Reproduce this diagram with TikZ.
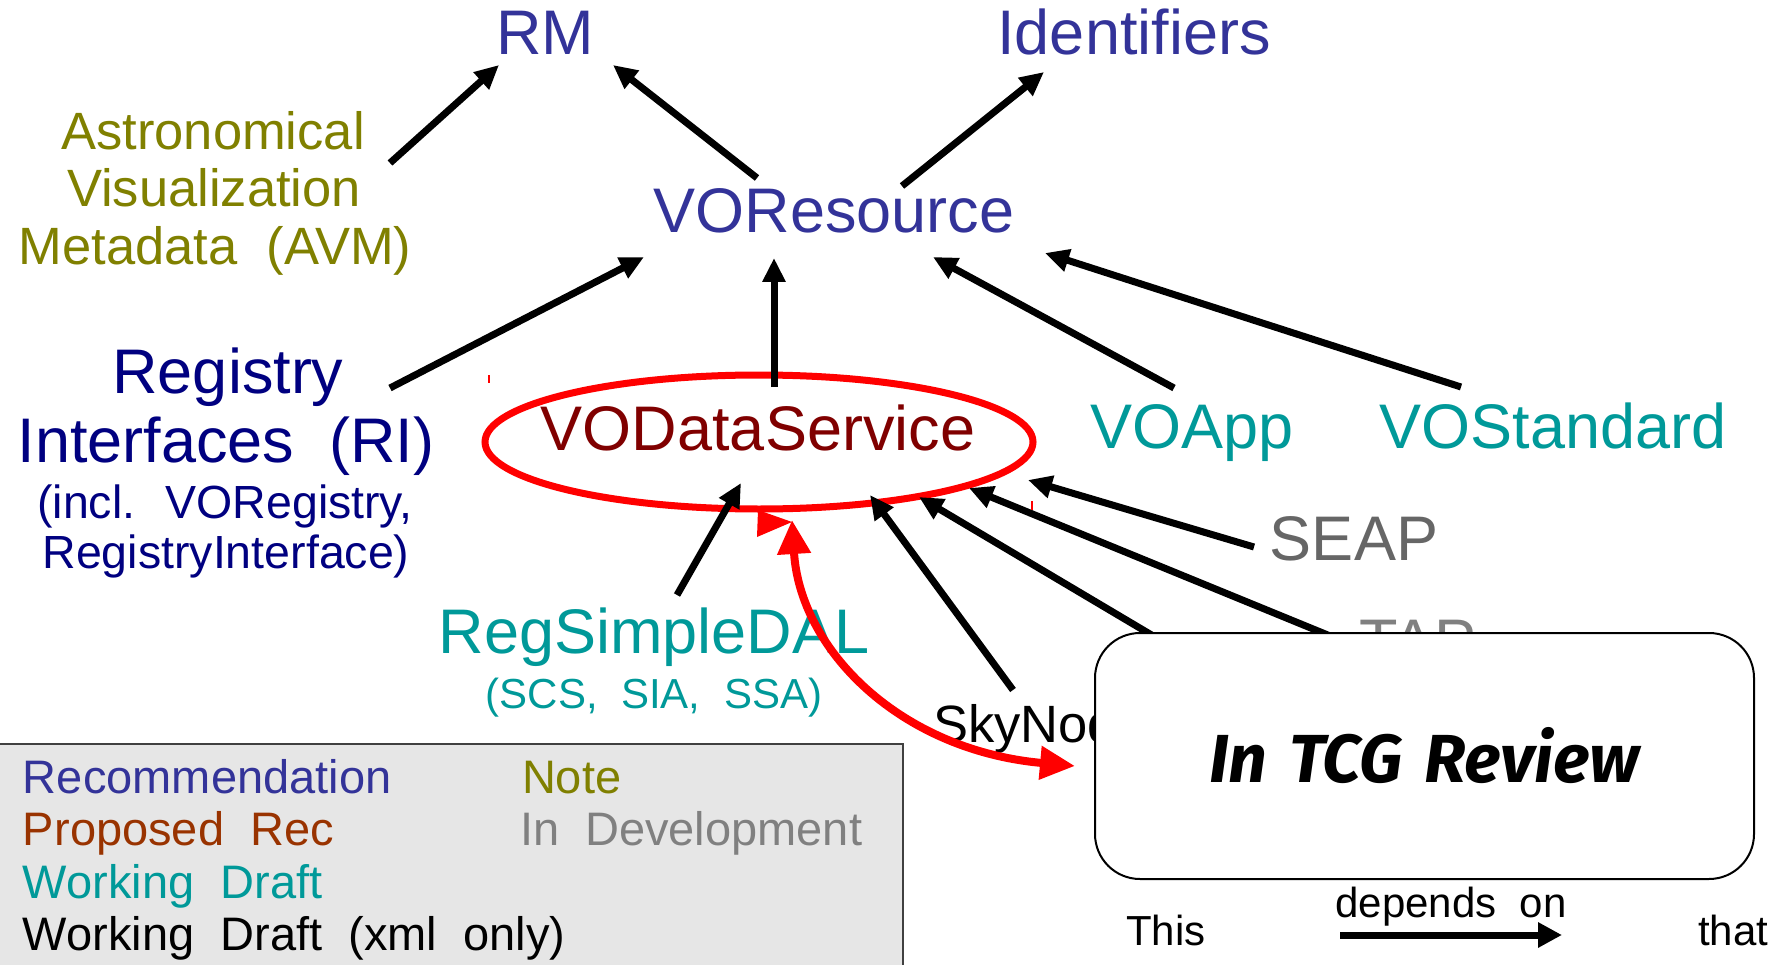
\documentclass[tikz,border=0pt]{standalone}
\usepackage{fontspec}
\setmainfont{Liberation Sans}[WordSpace=2]
\newfontfamily\tcgfont{Fira Sans}[WordSpace=1.4]
\usetikzlibrary{arrows.meta,calc}
\definecolor{recblue}{HTML}{333399}
\definecolor{noteolive}{HTML}{808000}
\definecolor{rinavy}{HTML}{000080}
\definecolor{prdred}{HTML}{800000}
\definecolor{wdteal}{HTML}{009999}
\definecolor{devgray}{HTML}{666666}
\definecolor{devgrayb}{HTML}{808080}
\definecolor{propbrown}{HTML}{993300}
\definecolor{legendgray}{HTML}{E6E6E6}
\begin{document}
\begin{tikzpicture}[x=1pt,y=-1pt,
  lbl/.style={inner sep=0pt, outer sep=0pt, anchor=base},
  lblw/.style={inner sep=0pt, outer sep=0pt, anchor=base west},
  big/.style={font=\fontsize{63}{70}\selectfont},
  mid/.style={font=\fontsize{52.5}{58}\selectfont},
  sub/.style={font=\fontsize{46.5}{50}\selectfont},
  small/.style={font=\fontsize{42}{46}\selectfont},
  leg/.style={font=\fontsize{47}{52}\selectfont},
  dep/.style={line width=7pt, -{Triangle[length=24pt,width=22pt]}},
  redarr/.style={red, line width=8pt, {Triangle[length=34pt,width=32pt]}-{Triangle[length=35pt,width=32pt]}},
]
\useasboundingbox (0,0) rectangle (1787,965);

% top level
\node[lbl, big, text=recblue] (rm) at (545,55) {RM};
\node[lbl, big, text=recblue] (ident) at (1134,55) {Identifiers};
\node[lbl, mid, text=noteolive] (avmA) at (213,150) {Astronomical};
\node[lbl, mid, text=noteolive] (avmB) at (214,207) {Visualization};
\node[lbl, mid, text=noteolive] (avmC) at (215,265) {Metadata (AVM)};
\node[lbl, big, text=recblue] (vores) at (834,233) {VOResource};

% registry interfaces
\node[lbl, big, text=rinavy] (riA) at (228,393) {Registry};
\node[lbl, big, text=rinavy] (riB) at (226,462) {Interfaces (RI)};
\node[lbl, sub, text=rinavy] (riC) at (225,518) {(incl. VORegistry,};
\node[lbl, sub, text=rinavy] (riD) at (226,568) {RegistryInterface)};

% VODataService
\node[lbl, big, text=prdred] (vods) at (758,450) {VODataService};
\draw[red, line width=7pt] (759,442) ellipse [x radius=274pt, y radius=67pt];
\node[lbl, big, text=wdteal] (voapp) at (1192,448) {VOApp};
\node[lbl, big, text=wdteal] (vostd) at (1553,448) {VOStandard};
\node[lbl, big, text=devgray] (seap) at (1354,560) {SEAP};
\node[lbl, big, text=devgrayb] (tap) at (1418,663) {TAP};
\node[lbl, big, text=wdteal] (rsdal) at (654,653) {RegSimpleDAL};
\node[lbl, small, text=wdteal] (rsdalB) at (654,708) {(SCS, SIA, SSA)};
\node[lblw, mid, text=black] (skynode) at (933,742) {SkyNode};
\coordinate (hidden) at (1160,640);

% dependency arrows
\draw[dep] ([shift={(177,13)}]avmA.base) -- ([shift={(-46,10)}]rm.base);
\draw[dep] ([shift={(-77,-55)}]vores.base) -- ([shift={(68,10)}]rm.base);
\draw[dep] ([shift={(68,-47)}]vores.base) -- ([shift={(-90,17)}]ident.base);
\draw[dep] ([shift={(162,-5)}]riA.base) -- ([shift={(-190,24)}]vores.base);
\draw[dep] ([shift={(16,-63)}]vods.base) -- ([shift={(-60,25)}]vores.base);
\draw[dep] ([shift={(-18,-60)}]voapp.base) -- ([shift={(99,24)}]vores.base);
\draw[dep] ([shift={(-92,-61)}]vostd.base) -- ([shift={(211,20)}]vores.base);
\draw[dep] ([shift={(23,-58)}]rsdal.base) -- ([shift={(-17,33)}]vods.base);
\draw[dep] ([shift={(80,-52)}]skynode.base west) -- ([shift={(112,45)}]vods.base);
\draw[dep] (hidden) -- ([shift={(161,47)}]vods.base);
\draw[dep] ([shift={(-78,-23)}]tap.base) -- ([shift={(211,38)}]vods.base);
\draw[dep] ([shift={(-100,-13)}]seap.base) -- ([shift={(270,30)}]vods.base);

% small red marks
\draw[red, line width=1.5pt] (489,375) -- (489,383);
\draw[red, line width=1.5pt] (1032,501) -- (1032,510);

% In TCG Review box
\node[draw=black, fill=white, line width=2pt, rounded corners=45pt,
      minimum width=659pt, minimum height=246pt, inner sep=0pt, anchor=north west,
      font=\tcgfont\bfseries\itshape\fontsize{68}{74}\selectfont] (tcg) at (1094,632) {In TCG Review};

% red curved arrow
\draw[redarr] ([shift={(34,70)}]vods.base) .. controls (800,650) and (900,750) .. ([shift={(-19,10)}]tcg.west);
\fill[red] (758,510) -- (792,522) -- (757,537) -- cycle;

% legend
\node[draw=black!75, fill=legendgray, line width=2pt, minimum width=907pt, minimum height=240pt,
      inner sep=0pt, anchor=north west] (legend) at (-5,743) {};
\node[lblw, leg, text=recblue] (lrec) at (23,793) {Recommendation};
\node[lblw, leg, text=noteolive] (lnote) at (522,793) {Note};
\node[lblw, leg, text=propbrown] (lprop) at (23,845) {Proposed Rec};
\node[lblw, leg, text=devgrayb] (ldev) at (520,845) {In Development};
\node[lblw, leg, text=wdteal] (lwd) at (23,898) {Working Draft};
\node[lblw, leg, text=black] (lwdx) at (23,950) {Working Draft (xml only)};

% key
\node[lblw, small] (this) at (1126,945) {This};
\node[lbl, small] (depon) at (1451,917) {depends on};
\node[lblw, small] (that) at (1698,945) {that};
\draw[line width=7pt, -{Triangle[length=24pt,width=24pt]}] ([shift={(-111,18)}]depon.base) -- ([shift={(111,18)}]depon.base);
\end{tikzpicture}
\end{document}
